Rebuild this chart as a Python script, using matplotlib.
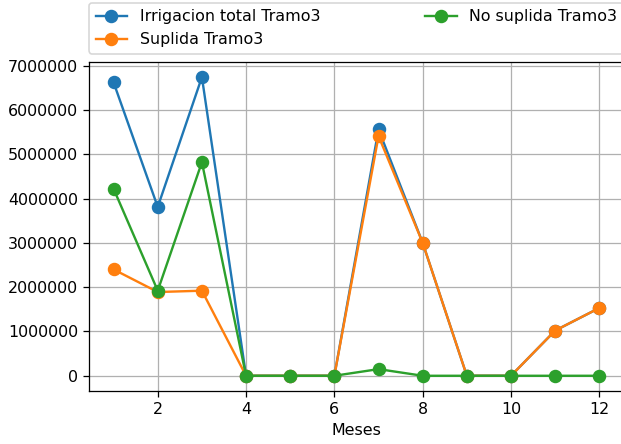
import matplotlib
matplotlib.use("Agg")
import matplotlib.pyplot as plt

# Monthly irrigation demand for section 3
meses = [1, 2, 3, 4, 5, 6, 7, 8, 9, 10, 11, 12]
irrigacion_total = [6620000, 3810000, 6740000, 0, 0, 0, 5560000, 3000000, 0, 0, 1020000, 1530000]
suplida = [2400000, 1890000, 1920000, 0, 0, 0, 5410000, 3000000, 0, 0, 1020000, 1530000]
no_suplida = [4220000, 1920000, 4820000, 0, 0, 0, 150000, 0, 0, 0, 0, 0]

W, H = 621, 444
DPI = 114
fig = plt.figure(figsize=(W / DPI, H / DPI), dpi=DPI)
ax = fig.add_axes([89.3 / W, (H - 390.7) / H, 534.3 / W, 328.5 / H])

ax.plot(meses, irrigacion_total, "-o", color="#1f77b4", ms=7.5,
        label="Irrigacion total Tramo3")
ax.plot(meses, suplida, "-o", color="#ff7f0e", ms=7.5,
        label="Suplida Tramo3")
ax.plot(meses, no_suplida, "-o", color="#2ca02c", ms=7.5,
        label="No suplida Tramo3")

ax.grid(True)
ax.set_axisbelow(True)
ax.set_xticks([2, 4, 6, 8, 10, 12])
ax.set_yticks(range(0, 7000001, 1000000))
ax.ticklabel_format(axis="y", style="plain", useOffset=False)
ax.set_xlabel("Meses")

ax.legend(bbox_to_anchor=(0.0, 1.026, 1.0, 0.102), loc="lower left",
          ncol=2, mode="expand", borderaxespad=0.0)

fig.savefig("out.png", dpi=DPI)
